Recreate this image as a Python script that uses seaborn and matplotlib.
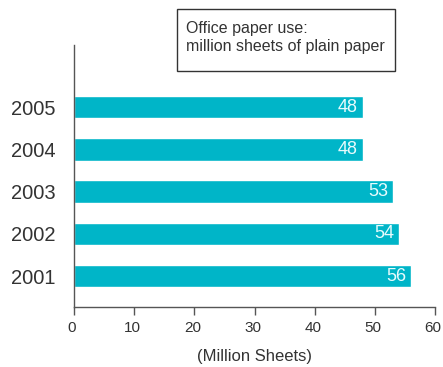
import matplotlib
matplotlib.use("Agg")
import matplotlib.pyplot as plt
import matplotlib.transforms as mtransforms
import seaborn as sns
import pandas as pd

# Office paper use, million sheets of plain paper
years = ["2005", "2004", "2003", "2002", "2001"]
sheets = [48, 48, 53, 54, 56]
x_ticks = [0, 10, 20, 30, 40, 50, 60]

BAR_COLOR = "#00b5c8"
TEXT_COLOR = "#333333"

sns.set_style("white")
plt.rcParams['font.family'] = ['Liberation Sans', 'DejaVu Sans']

df = pd.DataFrame({"year": years, "sheets": sheets})

fig = plt.figure(figsize=(4.43, 3.67), dpi=100)
ax = fig.add_axes([74 / 443, 1 - 307 / 367, 361 / 443, 262 / 367])

sns.barplot(data=df, x="sheets", y="year", order=years, color=BAR_COLOR,
            width=0.53, saturation=1, ax=ax)

# value labels inside the bar ends
for i, v in enumerate(sheets):
    ax.text(v - 0.8, i, f"{v}", ha="right", va="center",
            color="#e8fbfd", fontsize=13)

ax.set_xlim(0, 60)
ax.set_ylim(4.73, -1.47)
ax.set_xticks(x_ticks)
ax.set_xticklabels([str(t) for t in x_ticks], fontsize=11, color=TEXT_COLOR)
ax.tick_params(axis="y", left=False, length=0, labelsize=14.5,
               labelcolor=TEXT_COLOR, pad=13)
ax.tick_params(axis="x", bottom=True, direction="out", length=6, width=1,
               color="#555555", pad=4)
# tick labels sit a touch left of their ticks, as in the original
shift = mtransforms.ScaledTranslation(-2 / 100, 0, fig.dpi_scale_trans)
for lbl in ax.get_xticklabels():
    lbl.set_transform(lbl.get_transform() + shift)
ax.set_ylabel("")
ax.set_xlabel("(Million Sheets)", fontsize=12, color=TEXT_COLOR, labelpad=10)

sns.despine(ax=ax, top=True, right=True)
for side in ["left", "bottom"]:
    ax.spines[side].set_color("#555555")
    ax.spines[side].set_linewidth(1)

fig.text(186 / 443, 1 - 37 / 367,
         "Office paper use:\nmillion sheets of plain paper",
         ha="left", va="center", fontsize=11.5, color=TEXT_COLOR,
         linespacing=1.25)
box = plt.Rectangle((177 / 443, 1 - 71 / 367), 218 / 443, 62 / 367,
                    transform=fig.transFigure, fill=False,
                    edgecolor="#333333", linewidth=1)
fig.add_artist(box)

fig.savefig("out.png", dpi=100)
